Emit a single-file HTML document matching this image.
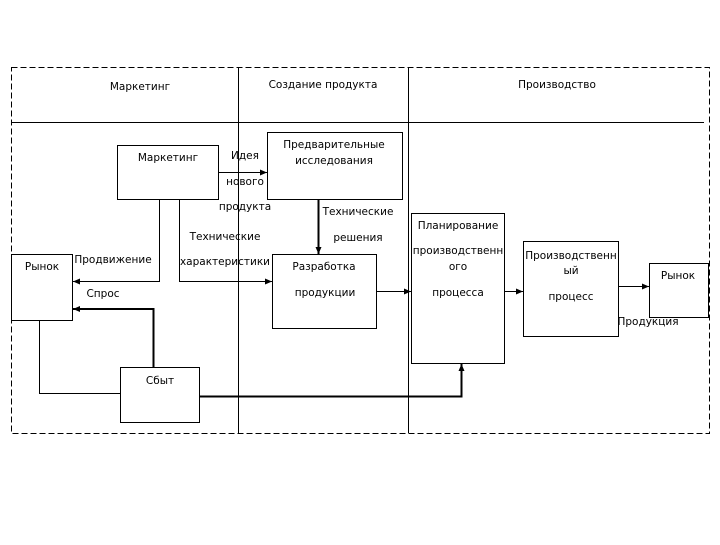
<!DOCTYPE html>
<html><head><meta charset="utf-8"><style>
body{margin:0;background:#fff;}
svg text{font-family:"DejaVu Sans","Liberation Sans",sans-serif;font-size:10.5px;fill:#000;}
</style></head><body>
<svg width="720" height="540" xmlns="http://www.w3.org/2000/svg">
<defs><marker id="a" markerWidth="8" markerHeight="8" refX="7" refY="4" orient="auto" markerUnits="userSpaceOnUse"><path d="M0,1 L7,4 L0,7 z" fill="#000"/></marker></defs>
<rect x="11.5" y="67.5" width="698" height="366" fill="none" stroke="#000" stroke-dasharray="6,3"/>
<g stroke="#000" fill="none">
<line x1="11" y1="122.5" x2="704" y2="122.5"/>
<line x1="238.5" y1="67" x2="238.5" y2="433"/>
<line x1="408.5" y1="67" x2="408.5" y2="433"/>
<rect x="117.5" y="145.5" width="101" height="54"/>
<rect x="267.5" y="132.5" width="135" height="67"/>
<rect x="11.5" y="254.5" width="61" height="66"/>
<rect x="272.5" y="254.5" width="104" height="74"/>
<rect x="120.5" y="367.5" width="79" height="55"/>
<rect x="411.5" y="213.5" width="93" height="150"/>
<rect x="523.5" y="241.5" width="95" height="95"/>
<rect x="649.5" y="263.5" width="59" height="54"/>
<line x1="218" y1="172.5" x2="267" y2="172.5" marker-end="url(#a)"/>
<polyline points="159.5,199 159.5,281.5 73,281.5" marker-end="url(#a)"/>
<polyline points="179.5,199 179.5,281.5 272,281.5" marker-end="url(#a)"/>
<line x1="318.5" y1="199" x2="318.5" y2="254" stroke-width="2" marker-end="url(#a)"/>
<line x1="376" y1="291.5" x2="411" y2="291.5" marker-end="url(#a)"/>
<line x1="504" y1="291.5" x2="523" y2="291.5" marker-end="url(#a)"/>
<line x1="618" y1="286.5" x2="649" y2="286.5" marker-end="url(#a)"/>
<polyline points="153.5,367 153.5,309 73,309" stroke-width="2" marker-end="url(#a)"/>
<polyline points="39.5,320 39.5,393.5 120,393.5"/>
<polyline points="199,396.5 461.5,396.5 461.5,364" stroke-width="2" marker-end="url(#a)"/>
</g>
<text x="140" y="90" text-anchor="middle">Маркетинг</text>
<text x="323" y="88" text-anchor="middle">Создание продукта</text>
<text x="557" y="88" text-anchor="middle">Производство</text>
<text x="168" y="161" text-anchor="middle">Маркетинг</text>
<text x="334" y="148" text-anchor="middle">Предварительные</text>
<text x="334" y="164" text-anchor="middle">исследования</text>
<text x="245" y="159" text-anchor="middle">Идея</text>
<text x="245" y="185" text-anchor="middle">нового</text>
<text x="245" y="210" text-anchor="middle">продукта</text>
<text x="358" y="215" text-anchor="middle">Технические</text>
<text x="358" y="241" text-anchor="middle">решения</text>
<text x="225" y="240" text-anchor="middle">Технические</text>
<text x="225" y="265" text-anchor="middle">характеристики</text>
<text x="113" y="263" text-anchor="middle">Продвижение</text>
<text x="103" y="297" text-anchor="middle">Спрос</text>
<text x="42" y="270" text-anchor="middle">Рынок</text>
<text x="324" y="270" text-anchor="middle">Разработка</text>
<text x="325" y="296" text-anchor="middle">продукции</text>
<text x="160" y="384" text-anchor="middle">Сбыт</text>
<text x="458" y="229" text-anchor="middle">Планирование</text>
<text x="458" y="254" text-anchor="middle">производственн</text>
<text x="458" y="270" text-anchor="middle">ого</text>
<text x="458" y="296" text-anchor="middle">процесса</text>
<text x="571" y="259" text-anchor="middle">Производственн</text>
<text x="571" y="274" text-anchor="middle">ый</text>
<text x="571" y="300" text-anchor="middle">процесс</text>
<text x="678" y="279" text-anchor="middle">Рынок</text>
<text x="648" y="325" text-anchor="middle">Продукция</text>
</svg>
</body></html>
